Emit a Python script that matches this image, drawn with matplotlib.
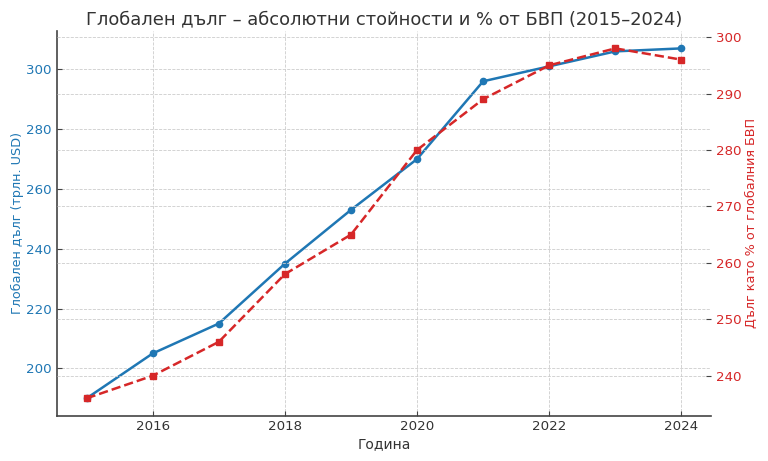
import matplotlib.pyplot as plt

# Данни
years = [2015, 2016, 2017, 2018, 2019, 2020, 2021, 2022, 2023, 2024]
debt_usd = [190, 205, 215, 235, 253, 270, 296, 301, 306, 307]
debt_pct_gdp = [236, 240, 246, 258, 265, 280, 289, 295, 298, 296]

blue = '#1f77b4'
red = '#d62728'
dark = '#333333'

fig, ax1 = plt.subplots(figsize=(7.68, 4.61), dpi=100)
fig.subplots_adjust(left=0.074, right=0.926, top=0.933, bottom=0.098)

ax1.plot(years, debt_usd, color=blue, linewidth=1.8, marker='o', markersize=4.5)
ax1.set_xlabel('Година', color=dark, fontsize=10, labelpad=3)
ax1.set_ylabel('Глобален дълг (трлн. USD)', color=blue, fontsize=9.2, labelpad=1.5)
ax1.tick_params(axis='y', direction='in', color='#444444', labelcolor=blue, labelsize=9.6, length=3.5)
ax1.tick_params(axis='x', direction='in', color='#444444', labelcolor=dark, labelsize=9.6, length=3.5, pad=3)
ax1.set_xticks([2016, 2018, 2020, 2022, 2024])
ax1.grid(True, linestyle='--', linewidth=0.6, color='#cccccc')
for s in ['top', 'right']:
    ax1.spines[s].set_visible(False)
for s in ['left', 'bottom']:
    ax1.spines[s].set_color('#444444')
    ax1.spines[s].set_linewidth(1.2)

ax2 = ax1.twinx()
ax2.plot(years, debt_pct_gdp, color=red, linewidth=1.8, linestyle='--', marker='s', markersize=4.5)
ax2.set_ylabel('Дълг като % от глобалния БВП', color=red, fontsize=9.2, labelpad=2)
ax2.tick_params(axis='y', direction='in', color='#444444', labelcolor=red, labelsize=9.6, length=3.5)
ax2.grid(True, linestyle='--', linewidth=0.6, color='#cccccc')
for s in ['top', 'right', 'left', 'bottom']:
    ax2.spines[s].set_visible(False)

ax1.set_title('Глобален дълг – абсолютни стойности и % от БВП (2015–2024)',
              color=dark, fontsize=12.9, pad=5)

fig.savefig('out.png')
